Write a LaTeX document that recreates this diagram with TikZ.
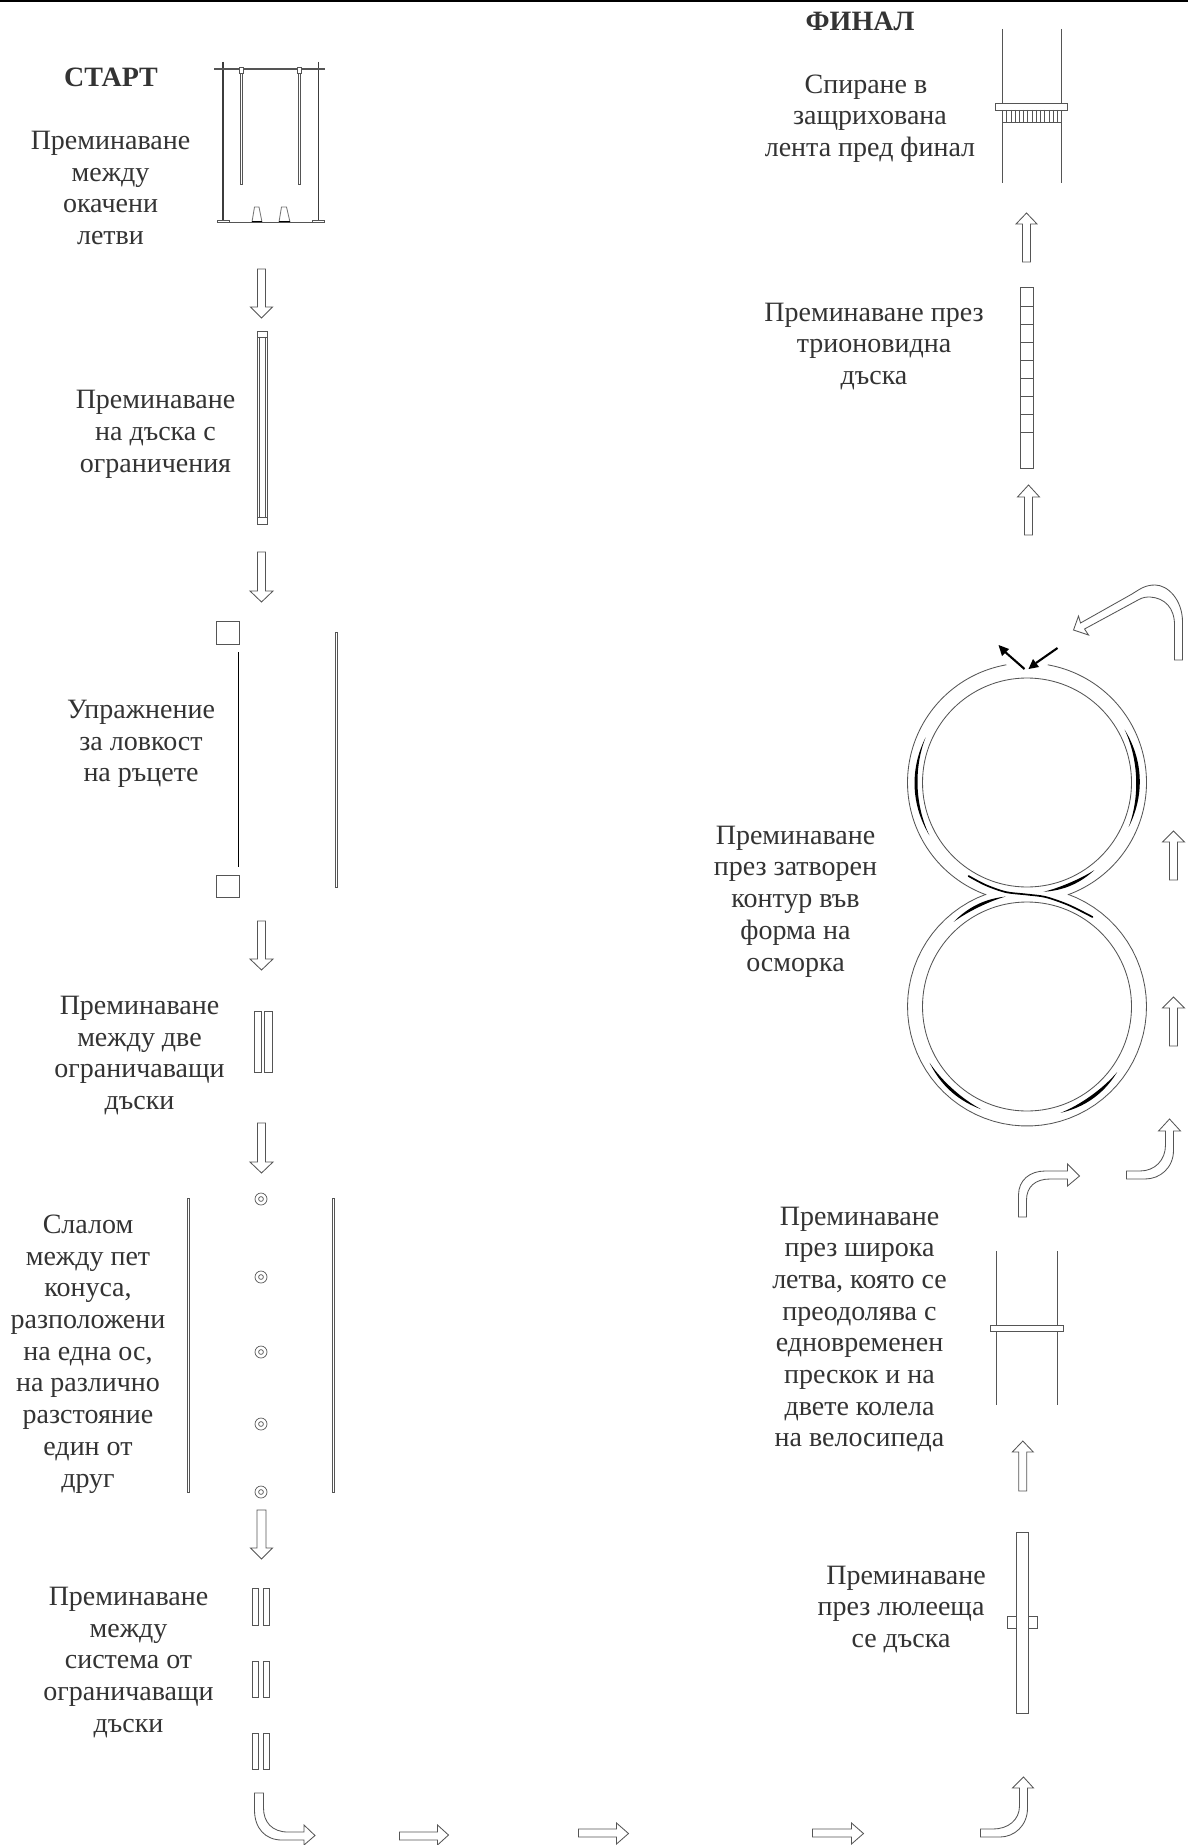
\documentclass[tikz,border=0pt]{standalone}
\usepackage{fontspec}
\setmainfont{Liberation Serif}
\definecolor{ink}{HTML}{555555}
\definecolor{txt}{HTML}{333333}
\tikzset{
  outline/.style={draw=ink,line width=0.42pt,line join=miter},
  heavy/.style={draw=ink!70!black,line width=0.62pt},
  bar/.style={draw=ink,line width=0.45pt},
  label/.style={text=txt,align=center,inner sep=0pt,font=\fontsize{14}{15.85}\selectfont},
  title/.style={text=txt,inner sep=0pt,font=\fontsize{14}{16}\selectfont\bfseries},
  tiny arrow/.style={draw=black,fill=black,line width=1.05pt}
}
% vertical block arrows: centre x, half shaft, tail y, head base y, tip y, half head
\newcommand{\blockv}[6]{\draw[outline] ({#1-#2},#3) -- ({#1+#2},#3) -- ({#1+#2},#4) -- ({#1+#6},#4) -- (#1,#5) -- ({#1-#6},#4) -- ({#1-#2},#4) -- cycle;}
% horizontal block arrows: tail x, head base x, tip x, shaft top, shaft bottom, head top, head bottom
\newcommand{\blockh}[7]{\draw[outline] (#1,#4) -- (#2,#4) -- (#2,#6) -- (#3,{(#6+#7)/2}) -- (#2,#7) -- (#2,#5) -- (#1,#5) -- cycle;}
% tapered black arc: centre x, y, radius, from, to, half width
\newcommand{\lensarc}[6]{\fill[black] plot[domain=0:1,samples=30] ({#1+(#3+#6*sin(180*\x))*cos(#4+(#5-#4)*\x)},{#2+(#3+#6*sin(180*\x))*sin(#4+(#5-#4)*\x)}) -- plot[domain=1:0,samples=30] ({#1+(#3-#6*sin(180*\x))*cos(#4+(#5-#4)*\x)},{#2+(#3-#6*sin(180*\x))*sin(#4+(#5-#4)*\x)}) -- cycle;}
\newcommand{\ringarc}[5]{\draw[outline] plot[domain=#4:#5,samples=70] ({#1+#3*cos(\x)},{#2+#3*sin(\x)});}
\begin{document}
\begin{tikzpicture}[x=0.5pt,y=-0.5pt]
\useasboundingbox (0,0) rectangle (1188,1845);
\fill[white] (0,0) rectangle (1188,1845);
\fill[black] (0,0) rectangle (1188,2.3);

% titles
\node[title] (start) at (111,77.5) {СТАРТ};
\node[title] (finish) at (860,21) {ФИНАЛ};

% labels
\node[label] (t1) at (110.5,188) {Преминаване\\между\\окачени\\летви};
\node[label] (t2) at (155.5,434.5) {Преминаване\\на дъска с\\ограничения};
\node[label] (t3) at (141,744) {Упражнение\\за ловкост\\на ръцете};
\node[label] (t4) at (139.5,1055.5) {Преминаване\\между две\\ограничаващи\\дъски};
\node[label] (t5) at (88,1354) {Слалом\\между пет\\конуса,\\разположени\\на една ос,\\на различно\\разстояние\\един от\\друг};
\node[label] (t6) at (128.5,1662.5) {Преминаване\\между\\система от\\ограничаващи\\дъски};
\node[label] (t7) at (870,118.5) {Спиране в\hspace*{4pt}\\защрихована\\лента пред финал};
\node[label] (t8) at (874,346.5) {Преминаване през\\трионовидна\\дъска};
\node[label] (t9) at (795.5,901.5) {Преминаване\\през затворен\\контур във\\форма на\\осморка};
\node[label] (t10) at (859.5,1329.5) {Преминаване\\през широка\\летва, която се\\преодолява с\\едновременен\\прескок и на\\двете колела\\на велосипеда};
\node[label] (t11) at (901,1609.5) {\hspace*{5pt}Преминаване\\през люлееща\\се дъска};

% hanging slats
\draw[heavy] (223,62) -- (223,222);
\draw[heavy] (318.3,62) -- (318.3,222);
\draw[outline] (214,68.3) rectangle (324,69.8);
\draw[outline,fill=white] (240,70) rectangle (242.2,184);
\draw[outline,fill=white] (298.2,70) rectangle (300.4,184);
\draw[outline,fill=white] (239,67) rectangle (243,73);
\draw[outline,fill=white] (297.3,67) rectangle (301.3,73);
\draw[outline] (217,222) -- (324,222);
\draw[outline,fill=white] (217,220) rectangle (229,222.5);
\draw[outline,fill=white] (312,220) rectangle (324,222.5);
\draw[outline,draw=ink!80] (252,222) -- (254.5,207) -- (259,207) -- (262,222);
\draw[outline,draw=ink!80] (279,222) -- (281.5,207) -- (286.5,207) -- (290,222);
\draw[black,line width=0.6pt] (252,221.5) -- (262,221.5) (279,221.5) -- (290,221.5);

% left column arrows
\blockv{261.5}{4}{269}{307}{318}{11}
\blockv{261.5}{4}{552}{591}{602}{11.5}
\blockv{261.5}{4}{921}{959}{970}{11.5}
\blockv{261.5}{4}{1123}{1162}{1173}{11.5}
\blockv{261.5}{4.5}{1510}{1548}{1559}{11}

% narrow board
\draw[bar] (257.5,331) rectangle (267.5,524);
\draw[outline,line width=0.35pt] (259.5,337) -- (259.5,517) (265.5,337) -- (265.5,517) (257.5,337) -- (267.5,337) (257.5,517) -- (267.5,517);

% hand dexterity
\draw[outline] (216.5,621) rectangle (239,644);
\draw[outline] (216.5,875) rectangle (239,897);
\draw[draw=black,line width=0.5pt] (238,652) -- (238,867);
\draw[outline,fill=white] (335.5,632) rectangle (337.3,887);

% two boards
\draw[bar] (254.5,1011) rectangle (261.5,1072);
\draw[bar] (264.5,1011) rectangle (272,1072);

% slalom
\draw[outline,fill=white] (187.2,1198) rectangle (189.5,1492);
\draw[outline,fill=white] (332.2,1198) rectangle (334.5,1492);
\foreach \yy in {1199,1277,1352,1424,1492}{
  \draw[outline,line width=0.35pt] (261,\yy) circle (6);
  \draw[outline,line width=0.35pt] (261,\yy) circle (2.4);
}

% system of boards
\foreach \yy/\zz in {1588/1625,1661/1697,1733/1769}{
  \draw[outline] (252.6,\yy) rectangle (258,\zz);
  \draw[outline] (263.6,\yy) rectangle (269,\zz);
}

% bottom row arrows
\draw[outline] (254.5,1793) -- (263.5,1793) -- (263.5,1808) .. controls (263.5,1822) and (272,1832) .. (288,1832) -- (304,1832) -- (304,1825) -- (315,1835.5) -- (304,1845) -- (304,1840) -- (282,1840) .. controls (265,1840) and (254.5,1828) .. (254.5,1810) -- cycle;
\blockh{399.5}{437.5}{448.5}{1832}{1840}{1825}{1845}
\blockh{578.5}{616.5}{628.5}{1829}{1837}{1823}{1844}
\blockh{812.5}{851.5}{863.5}{1829}{1837}{1823}{1844}
\draw[outline] (980.5,1829) -- (993,1829) .. controls (1008,1829) and (1019.5,1820) .. (1019.5,1806) -- (1019.5,1788) -- (1012.5,1788) -- (1023.5,1777) -- (1033.5,1788) -- (1027.5,1788) -- (1027.5,1808) .. controls (1027.5,1826) and (1014,1837) .. (1000,1837) -- (980.5,1837) -- cycle;

% swinging board
\draw[outline] (1007.5,1616) rectangle (1037.5,1628);
\draw[bar,fill=white] (1016.5,1532) rectangle (1028.5,1713);
\blockv{1022.8}{4}{1491}{1452}{1441}{10.5}

% wide bar
\draw[outline] (996.5,1251) -- (996.5,1405) (1057.5,1251) -- (1057.5,1405);
\draw[outline,fill=white] (990.5,1325) rectangle (1063.5,1331);

% curved arrows
\draw[outline] (1018.5,1217) -- (1018.5,1195) .. controls (1018.5,1180) and (1030,1171) .. (1045,1171) -- (1067.5,1171) -- (1067.5,1164) -- (1079.5,1176) -- (1067.5,1186) -- (1067.5,1179) -- (1050,1179) .. controls (1035,1179) and (1026.5,1187) .. (1026.5,1200) -- (1026.5,1217) -- cycle;
\draw[outline] (1126.5,1171) -- (1140,1171) .. controls (1155,1171) and (1165.5,1160) .. (1165.5,1145) -- (1165.5,1131) -- (1158.5,1131) -- (1169.5,1119) -- (1180.5,1131) -- (1173.5,1131) -- (1173.5,1150) .. controls (1173.5,1168) and (1160,1179) .. (1145,1179) -- (1126.5,1179) -- cycle;
\blockv{1173.5}{4}{1046}{1008}{997}{11}
\blockv{1173.5}{4}{880}{842}{831}{11}
\draw[outline] (1174.5,660) -- (1182.5,660) -- (1182.5,622) .. controls (1182.5,600) and (1168,585) .. (1155,585) .. controls (1145,585) and (1140,589) .. (1132,594) -- (1080.5,623) -- (1078.5,616) -- (1073.5,630) -- (1088.5,635) -- (1084.5,629) -- (1138,600) .. controls (1143,597) and (1147,597) .. (1150,597) .. controls (1165,598) and (1174.5,608) .. (1174.5,625) -- cycle;

% figure eight
\ringarc{1027}{782.5}{119.5}{280}{430}
\ringarc{1027}{782.5}{119.5}{110}{260}
\ringarc{1027}{1006.5}{119.5}{290}{610}
\draw[outline] (1027,782.5) circle (104.5);
\draw[outline] (1027,1006.5) circle (104.5);
\lensarc{1027}{782.5}{111}{151.5}{204}{1.5}
\lensarc{1027}{782.5}{111}{331.5}{383.7}{1.8}
\lensarc{1027}{782.5}{110.5}{52.4}{81.4}{1.5}
\lensarc{1027}{1006.5}{112}{229}{259}{1.5}
\lensarc{1027}{1006.5}{112.5}{114}{150}{1.5}
\lensarc{1027}{1006.5}{111.5}{36}{72.5}{1.7}
\draw[black,line width=0.85pt,line cap=round] plot[smooth] coordinates {(968.5,876) (985.5,885) (1005.5,892) (1026.5,894.5) (1045.5,897) (1068.5,905) (1092.5,917)};

% entry and exit of the eight
\draw[tiny arrow] (1024.5,669) -- (1004,651);
\fill[black] (998.5,645) -- (1009,649) -- (1002,656) -- cycle;
\draw[tiny arrow] (1057.5,648) -- (1036,663);
\fill[black] (1028.5,669) -- (1033,659) -- (1039,667) -- cycle;

% sawtooth board
\draw[bar] (1020.5,287) rectangle (1033.5,468);
\foreach \yy in {306,324,342,360,378,396,414,432}{
  \draw[outline] (1020.5,\yy) -- (1033.5,\yy);
}
\blockv{1028.5}{4}{535}{497}{485}{11}
\blockv{1026.5}{4}{262}{224}{213}{10.5}

% finish bar
\draw[outline] (1002.5,29) -- (1002.5,183) (1061.5,29) -- (1061.5,183);
\draw[outline,fill=white] (995.5,103) rectangle (1067.5,110);
\foreach \i in {0,...,14}{
  \draw[outline,line width=0.35pt] ({1002.5+\i*59/14},110) -- ({1002.5+\i*59/14},122);
}
\draw[outline] (1002.5,122) -- (1061.5,122);
\end{tikzpicture}
\end{document}
